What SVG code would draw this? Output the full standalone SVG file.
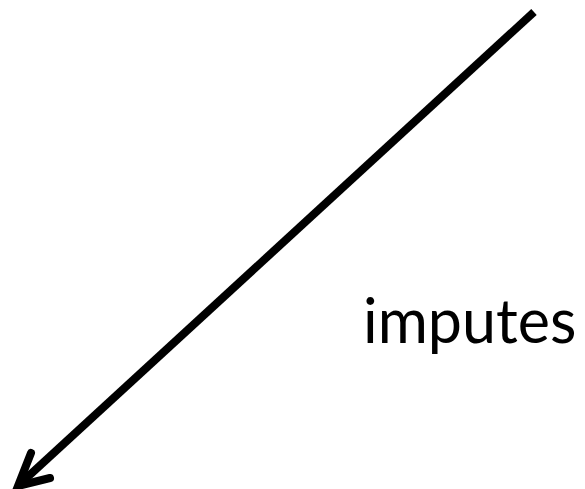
<svg xmlns="http://www.w3.org/2000/svg" width="585" height="489" viewBox="0 0 585 489">
<style>
.conn{fill:none;stroke:#000;stroke-width:8}
.lbl{font-family:Lato,"Noto Sans",sans-serif;font-size:61px;fill:#000}
</style>
<rect width="585" height="489" fill="#fff"/>
<g id="connectors">
<path class="conn" d="M534,12 L21,483"/>
<path class="conn" d="M31,453 L18,486 L50,478" stroke-linecap="round" stroke-linejoin="miter"/>
</g>
<g id="label">
<text class="lbl" x="363" y="343">imputes</text>
</g>
</svg>
